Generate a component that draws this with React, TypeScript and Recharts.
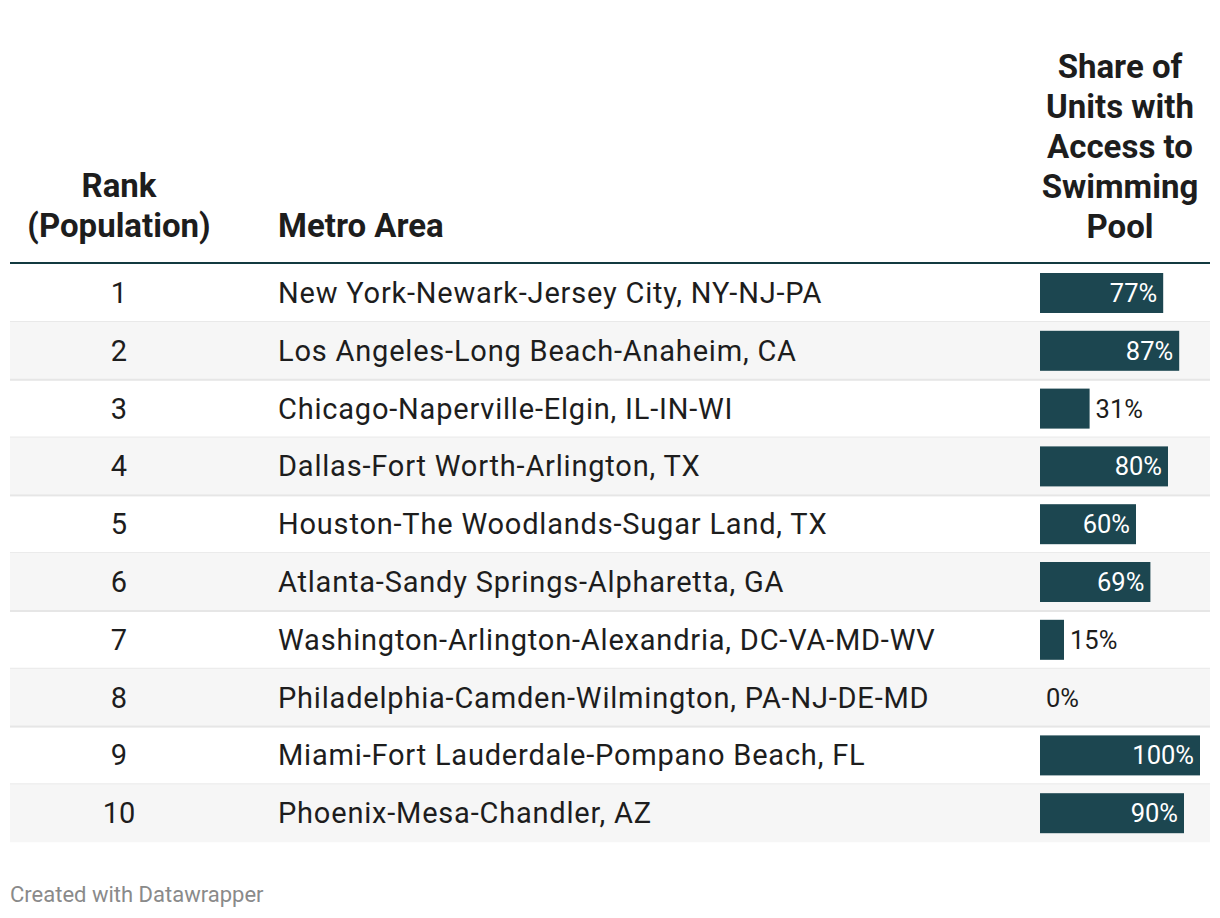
import { BarChart, Bar, XAxis, YAxis, LabelList } from 'recharts';

const ranks = ['1', '2', '3', '4', '5', '6', '7', '8', '9', '10'];
const metros = [
  'New York-Newark-Jersey City, NY-NJ-PA',
  'Los Angeles-Long Beach-Anaheim, CA',
  'Chicago-Naperville-Elgin, IL-IN-WI',
  'Dallas-Fort Worth-Arlington, TX',
  'Houston-The Woodlands-Sugar Land, TX',
  'Atlanta-Sandy Springs-Alpharetta, GA',
  'Washington-Arlington-Alexandria, DC-VA-MD-WV',
  'Philadelphia-Camden-Wilmington, PA-NJ-DE-MD',
  'Miami-Fort Lauderdale-Pompano Beach, FL',
  'Phoenix-Mesa-Chandler, AZ',
];
const shares = [77, 87, 31, 80, 60, 69, 15, 0, 100, 90];

const rows = ranks.map((rank, i) => ({ rank, metro: metros[i], share: shares[i] }));

const FONT = 'Roboto, "Noto Sans", sans-serif';
const BAR = '#1c4650';
const TEXT = '#1d1d1d';

// full-width zebra stripe + separator for each row
function RowBg(props: any) {
  const { y, height, index } = props;
  return (
    <g>
      {index % 2 === 1 && <rect x={10} y={y} width={1200} height={height} fill="#f6f6f6" />}
      {index < rows.length - 1 && <rect x={10} y={y + height - 1} width={1200} height={2} fill="#e6e6e6" />}
    </g>
  );
}

function InnerBar(props: any) {
  const { x, y, width, height, fill } = props;
  if (!width || width <= 0) return null;
  return <rect x={x} y={y + (height - 40) / 2} width={width} height={40} fill={fill} />;
}

// rank + metro name columns, drawn at each row's band centre
function RowText(props: any) {
  const { y, height, index } = props;
  const cy = y + height / 2;
  return (
    <g>
      <text x={119} y={cy} dy={10} textAnchor="middle" fontSize={29} fill={TEXT} fontFamily={FONT}>
        {ranks[index]}
      </text>
      <text x={278} y={cy} dy={10} textAnchor="start" fontSize={29} letterSpacing={0.8} fill={TEXT} fontFamily={FONT}>
        {metros[index]}
      </text>
    </g>
  );
}

function ShareLabel(props: any) {
  const { x, y, width, height, value } = props;
  const inside = width > 70;
  return (
    <text
      x={inside ? x + width - 6 : x + width + 6}
      y={y + height / 2}
      dy={9}
      textAnchor={inside ? 'end' : 'start'}
      fontSize={25.5}
      fill={inside ? '#ffffff' : TEXT}
      fontFamily={FONT}
    >
      {value}%
    </text>
  );
}

const headStyle: React.CSSProperties = {
  position: 'absolute',
  fontFamily: FONT,
  fontWeight: 700,
  fontSize: 33,
  lineHeight: '40px',
  color: TEXT,
  whiteSpace: 'nowrap',
};

export default function App() {
  return (
    <div style={{ position: 'absolute', left: 0, top: 0, width: 1220, height: 918, background: '#fff' }}>
      <BarChart
        width={1220}
        height={918}
        data={rows}
        layout="vertical"
        barCategoryGap={0}
        margin={{ top: 264, right: 20, bottom: 76, left: 1040 }}
      >
        <XAxis type="number" domain={[0, 100]} hide />
        <YAxis type="category" dataKey="rank" width={0} hide />
        <Bar
          dataKey="share"
          fill={BAR}
          isAnimationActive={false}
          background={(p: any) => <RowBg key={`bg-${p.index}`} {...p} />}
          shape={(p: any) => <InnerBar {...p} />}
        >
          <LabelList dataKey="metro" content={(p: any) => <RowText {...p} />} />
          <LabelList dataKey="share" content={(p: any) => <ShareLabel {...p} />} />
        </Bar>
      </BarChart>

      <div style={{ position: 'absolute', left: 10, top: 262, width: 1200, height: 2, background: '#133a40' }} />

      <div style={{ ...headStyle, left: 10, top: 166, width: 218, textAlign: 'center' }}>
        Rank
        <br />
        (Population)
      </div>
      <div style={{ ...headStyle, left: 278, top: 206 }}>Metro Area</div>
      <div style={{ ...headStyle, left: 1020, top: 47, width: 200, textAlign: 'center' }}>
        Share of
        <br />
        Units with
        <br />
        Access to
        <br />
        Swimming
        <br />
        Pool
      </div>

      <div style={{ position: 'absolute', left: 10, top: 882, fontFamily: FONT, fontSize: 22, color: '#8a8a8a' }}>
        Created with Datawrapper
      </div>
    </div>
  );
}
